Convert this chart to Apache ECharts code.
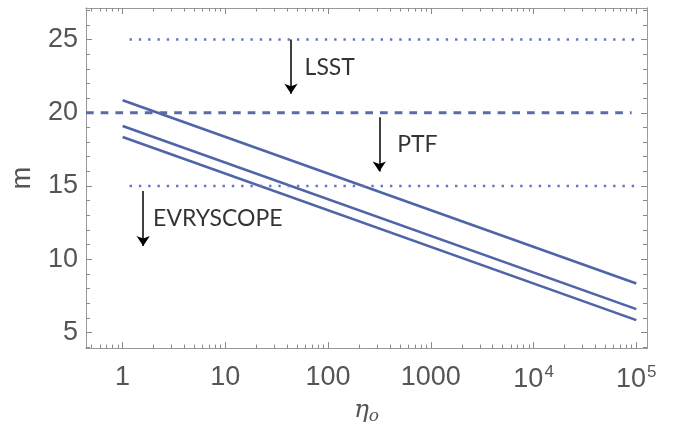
<!DOCTYPE html>
<html>
<head>
<meta charset="utf-8">
<script src="https://cdn.jsdelivr.net/npm/echarts@6/dist/echarts.min.js"></script>
<style>
	html, body { margin: 0; padding: 0; background: #fff; }
	#chart { width: 680px; height: 430px; }
</style>
</head>
<body>
<div id="chart"></div>
<script>
	// eta values at the line ends, and m at each end
	var etaEnds = [1, 100000];
	var lineTop = [20.85, 8.35];
	var lineMid = [19.1, 6.6];
	var lineLow = [18.35, 5.85];

	// survey limits
	var limitNames = ["LSST", "PTF", "EVRYSCOPE"];
	var limitM = [25, 20, 15];
	var limitFrom = [1, 0.44, 1];
	var limitTo = [100000, 90000, 100000];

	// arrows and their texts
	var arrowEta = [43.5, 315, 1.585];
	var arrowFromM = [25, 19.7, 14.66];
	var arrowToM = [21.3, 16.0, 10.9];
	var textEta = [59, 470, 1.98];
	var textM = [23.1, 17.83, 12.75];

	// axes
	var xMin = 0.44, xMax = 127000;
	var yMin = 3.94, yMax = 27.15;
	var xMajor = [1, 10, 100, 1000, 10000, 100000];
	var xMajorText = ["1", "10", "100", "1000", "{b|10}{s|4}", "{b|10}{s|5}"];
	var yMajor = [5, 10, 15, 20, 25];

	var lg = function(v){ return Math.log(v) / Math.LN10; };

	var xMinor = [];
	for(var d=-1; d<=5; d++)
	{
		for(var k=2; k<=9; k++)
		{
			var v = lg(k) + d;
			if(v > lg(xMin) && v < lg(xMax))
				xMinor.push(v);
		}
	}
	var yMinor = [];
	for(var j=4; j<=27; j++)
	{
		if(yMajor.indexOf(j) < 0)
			yMinor.push(j);
	}

	var frameColor = "#999";
	var tickColor = "#888";
	var blue = "#5064a8";

	var xAxisOf = function(pos, major, showLabel)
	{
		return {
			type: "value", position: pos,
			min: lg(xMin), max: lg(xMax),
			axisLine: { show: true, onZero: false, lineStyle: { color: frameColor, width: 1 } },
			splitLine: { show: false },
			axisTick: {
				show: true, inside: true, length: (major ? 6 : 3.5),
				lineStyle: { color: tickColor },
				customValues: (major ? xMajor.map(lg) : xMinor)
			},
			axisLabel: {
				show: showLabel, margin: 16,
				customValues: xMajor.map(lg),
				color: "#555", fontFamily: "Liberation Sans", fontSize: 27,
				formatter: function(val)
				{
					var i = Math.round(val);
					return xMajorText[i] || "";
				},
				rich: {
					b: { color: "#555", fontFamily: "Liberation Sans", fontSize: 27 },
					s: { color: "#555", fontFamily: "Liberation Sans", fontSize: 17, verticalAlign: "top", padding: [0, 0, 14, 1] }
				}
			}
		};
	};

	var yAxisOf = function(pos, major, showLabel)
	{
		return {
			type: "value", position: pos,
			min: yMin, max: yMax,
			axisLine: { show: true, onZero: false, lineStyle: { color: frameColor, width: 1 } },
			splitLine: { show: false },
			axisTick: {
				show: true, inside: true, length: (major ? 6 : 4),
				lineStyle: { color: tickColor },
				customValues: (major ? yMajor : yMinor)
			},
			axisLabel: {
				show: showLabel, margin: 8,
				customValues: yMajor,
				color: "#555", fontFamily: "Liberation Sans", fontSize: 27
			}
		};
	};

	var xAxes = [xAxisOf("bottom", true, true), xAxisOf("bottom", false, false),
		xAxisOf("top", true, false), xAxisOf("top", false, false)];
	xAxes[0].name = "{e|η}{o|o}";
	xAxes[0].nameLocation = "middle";
	xAxes[0].nameGap = 45;
	xAxes[0].nameTextStyle = {
		rich: {
			e: { fontFamily: "DejaVu Serif", fontStyle: "italic", fontSize: 25, color: "#555" },
			o: { fontFamily: "DejaVu Serif", fontStyle: "italic", fontSize: 17, color: "#555", verticalAlign: "bottom", padding: [12, 0, 0, 0] }
		}
	};

	var yAxes = [yAxisOf("left", true, true), yAxisOf("left", false, false),
		yAxisOf("right", true, false), yAxisOf("right", false, false)];
	yAxes[0].name = "m";
	yAxes[0].nameLocation = "middle";
	yAxes[0].nameGap = 50;
	yAxes[0].nameTextStyle = { fontFamily: "Liberation Sans", fontSize: 27, color: "#555" };

	var series = [];

	[lineTop, lineMid, lineLow].forEach(function(vals)
	{
		series.push({
			type: "line", showSymbol: false, silent: true,
			data: etaEnds.map(function(e, i){ return [lg(e), vals[i]]; }),
			lineStyle: { color: blue, width: 2.6 }
		});
	});

	limitNames.forEach(function(name, i)
	{
		var dashed = (name === "PTF");
		series.push({
			type: "line", showSymbol: false, silent: true,
			data: [[lg(limitFrom[i]), limitM[i]], [lg(limitTo[i]), limitM[i]]],
			lineStyle: dashed
				? { color: "#5b6ba8", width: 2.8, type: [7.7, 7] }
				: { color: "#6476c0", width: 2.6, type: [2.4, 6.9], dashOffset: 2.4 }
		});
	});

	// arrows
	series.push({
		type: "line", data: [], silent: true,
		markLine: {
			silent: true,
			symbol: ["none", "arrow"],
			symbolSize: 10,
			label: { show: false },
			lineStyle: { color: "#000", width: 1.5, type: "solid" },
			data: arrowEta.map(function(e, i)
			{
				return [{ coord: [lg(e), arrowFromM[i]] }, { coord: [lg(e), arrowToM[i]] }];
			})
		}
	});

	// arrow texts
	series.push({
		type: "scatter", symbolSize: 0, silent: true,
		data: limitNames.map(function(n, i){ return { name: n, value: [lg(textEta[i]), textM[i]] }; }),
		label: {
			show: true, position: "right", distance: 0,
			formatter: function(p){ return p.name; },
			fontFamily: "Lato", fontSize: 23, color: "#000"
		}
	});

	var chart = echarts.init(document.getElementById("chart"), null, { renderer: "canvas" });
	chart.setOption({
		animation: false,
		backgroundColor: "#fff",
		grid: { left: 86, right: 33, top: 8, bottom: 77, containLabel: false },
		xAxis: xAxes,
		yAxis: yAxes,
		series: series
	});
</script>
</body>
</html>
